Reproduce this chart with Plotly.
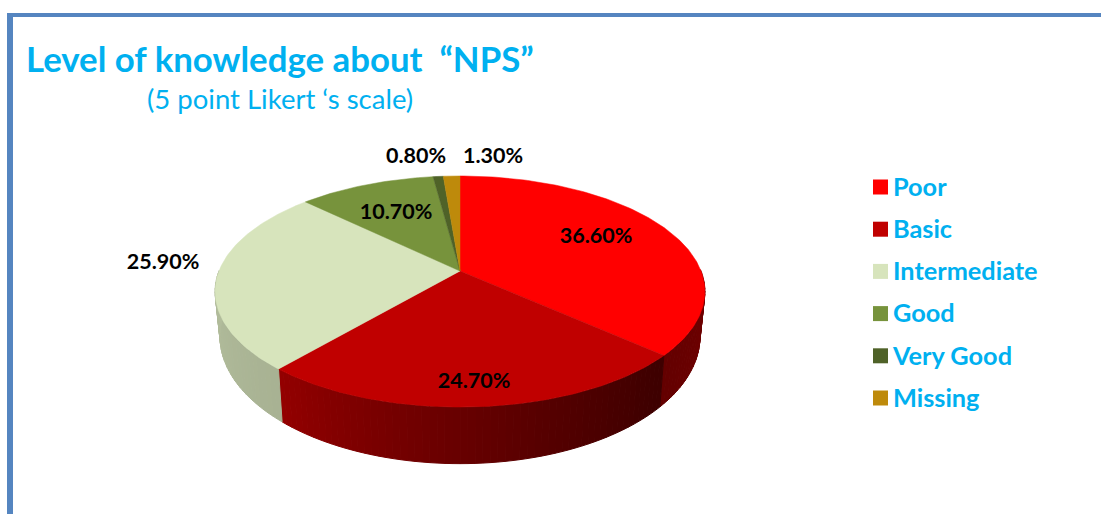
import math
import plotly.graph_objects as go

categories = ["Poor", "Basic", "Intermediate", "Good", "Very Good", "Missing"]
values = [36.6, 24.7, 25.9, 10.7, 0.8, 1.3]
colors = ["#FF0000", "#C00000", "#D7E4BC", "#77933C", "#4F6228", "#BE8A0B"]
value_labels = ["36.60%", "24.70%", "25.90%", "10.70%", "0.80%", "1.30%"]

label_x = [596, 474, 163, 396, 416, 493]
label_y = [238, 383, 264, 214, 158, 158]
# wall shade at the start and end of each slice's rim
wall_shade = [(0.58, 0.39), (0.32, 0.77), (0.78, 0.88), (0.8, 0.8), (0.8, 0.8), (0.8, 0.8)]
wall_power = [1.0, 1.2, 1.0, 1.0, 1.0, 1.0]

BLUE = "#00B0F0"
FONT = "Lato"
CX, CY, KX, KY, PERSP = 460.0, 271.0, 241.0, 111.9, 0.1775
WALL_Y0, WALL_YS, WALL_XS = 314.0, 1.1, 0.98


def top(theta):
    u, v = math.sin(theta), -math.cos(theta)
    d = 1 - PERSP * v
    return CX + KX * u / d, CY + KY * v / d


def bottom(theta):
    x, y = top(theta)
    return CX + (x - CX) * WALL_XS, WALL_Y0 + (y - CY) * WALL_YS


def shade(hex_color, f):
    r, g, b = (int(hex_color[i:i + 2], 16) for i in (1, 3, 5))
    return f"rgb({r * f:.0f},{g * f:.0f},{b * f:.0f})"


fig = go.Figure()
total = sum(values)
edges = [0.0]
for val in values:
    edges.append(edges[-1] + val / total * 2 * math.pi)

# side walls
for i in range(len(values)):
    a0, a1 = edges[i], edges[i + 1]
    n = max(2, int(math.degrees(a1 - a0) / 1.5))
    for j in range(n):
        t0 = a0 + (a1 - a0) * j / n
        t1 = a0 + (a1 - a0) * (j + 1) / n
        if -math.cos((t0 + t1) / 2) < 0:
            continue
        s0, s1 = wall_shade[i]
        f = s0 + (s1 - s0) * ((j + 0.5) / n) ** wall_power[i]
        p = [top(t0), top(t1), bottom(t1), bottom(t0), top(t0)]
        c = shade(colors[i], f)
        fig.add_trace(go.Scatter(
            x=[q[0] for q in p], y=[q[1] for q in p], mode="lines", fill="toself",
            fillcolor=c, line=dict(color=c, width=1), hoverinfo="skip", showlegend=False))

# top faces
for i, name in enumerate(categories):
    a0, a1 = edges[i], edges[i + 1]
    n = max(6, int(math.degrees(a1 - a0)))
    rim = [top(a0 + (a1 - a0) * j / n) for j in range(n + 1)]
    xs = [CX] + [q[0] for q in rim] + [CX]
    ys = [CY] + [q[1] for q in rim] + [CY]
    fig.add_trace(go.Scatter(
        x=xs, y=ys, mode="lines", fill="toself", fillcolor=colors[i],
        line=dict(color=colors[i], width=0.5), name=name,
        hovertemplate=f"{name}: {value_labels[i]}<extra></extra>", showlegend=False))

# value labels
fig.add_trace(go.Scatter(
    x=label_x, y=label_y, mode="text", text=value_labels, textposition="middle center",
    textfont=dict(family=FONT, size=21.5, color="#000000", weight="bold"),
    hoverinfo="skip", showlegend=False))

# key
for i, name in enumerate(categories):
    row_y = 187 + 42.2 * i
    fig.add_trace(go.Scatter(
        x=[880.5], y=[row_y], mode="markers",
        marker=dict(symbol="square", size=15, color=colors[i]),
        hoverinfo="skip", showlegend=False))
    fig.add_trace(go.Scatter(
        x=[893], y=[row_y + 2.5], mode="text", text=[name], textposition="middle right",
        textfont=dict(family=FONT, size=25.3, color=BLUE, weight="bold"),
        hoverinfo="skip", showlegend=False))

fig.update_layout(
    width=1101, height=514, margin=dict(l=0, r=0, t=0, b=0, pad=0),
    paper_bgcolor="white", plot_bgcolor="white", showlegend=False,
    xaxis=dict(range=[0, 1101], visible=False, fixedrange=True),
    yaxis=dict(range=[514, 0], visible=False, fixedrange=True),
    shapes=[
        dict(type="rect", xref="x", yref="y", x0=7, x1=13, y0=13, y1=514,
             fillcolor="#5585C0", line_width=0),
        dict(type="rect", xref="x", yref="y", x0=7, x1=1101, y0=13, y1=17,
             fillcolor="#5585C0", line_width=0),
    ],
    annotations=[
        dict(text="Level of knowledge about \u00a0“NPS”", x=23.5, y=58, xref="x", yref="y",
             xanchor="left", yanchor="middle", showarrow=False,
             font=dict(family=FONT, size=34.8, color=BLUE, weight="bold")),
        dict(text="(5 point Likert ‘s scale)", x=145, y=98, xref="x", yref="y",
             xanchor="left", yanchor="middle", showarrow=False,
             font=dict(family=FONT, size=27.5, color=BLUE)),
    ],
)
fig.write_html("out.html", config=dict(displayModeBar=False),
               post_script="document.body.style.margin='0';document.documentElement.style.overflow='hidden';")
